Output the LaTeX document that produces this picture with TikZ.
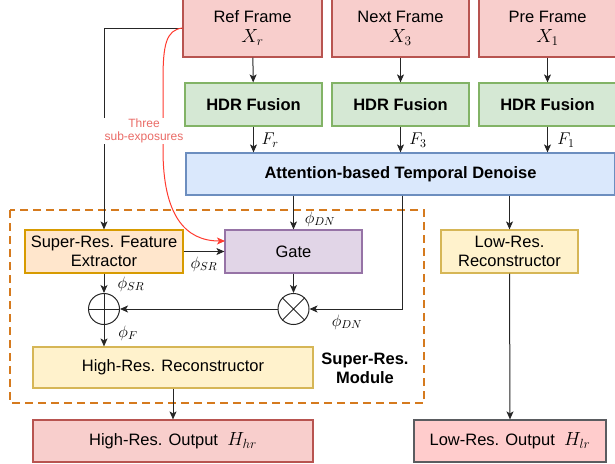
\RequirePackage{fix-cm}
\documentclass[tikz,border=0pt]{standalone}
\usepackage{fontspec}
\setmainfont{Liberation Sans}
\usetikzlibrary{arrows.meta,calc}
\definecolor{redfill}{HTML}{F8CECC}
\definecolor{redline}{HTML}{B85450}
\definecolor{greenfill}{HTML}{D5E8D4}
\definecolor{greenline}{HTML}{82B366}
\definecolor{bluefill}{HTML}{DAE8FC}
\definecolor{blueline}{HTML}{6C8EBF}
\definecolor{orangefill}{HTML}{FFE6CC}
\definecolor{orangeline}{HTML}{D79B00}
\definecolor{purplefill}{HTML}{E1D5E7}
\definecolor{purpleline}{HTML}{9673A6}
\definecolor{yellowfill}{HTML}{FFF2CC}
\definecolor{yellowline}{HTML}{D6B656}
\definecolor{pinkfill}{HTML}{FFCCCC}
\definecolor{grayline}{HTML}{5A5C60}
\definecolor{dashorange}{HTML}{D57A1E}
\definecolor{redcurve}{HTML}{FF3B2F}
\definecolor{redtext}{HTML}{EA6B66}
\begin{document}
\begin{tikzpicture}[x=1pt,y=-1pt,
  box/.style={draw, line width=1.2pt, rectangle, align=center, inner sep=0pt,
    font=\fontsize{16.5}{19}\selectfont},
  frame/.style={box, fill=redfill, draw=redline},
  hdr/.style={box, fill=greenfill, draw=greenline, font=\fontsize{16.5}{19}\selectfont\bfseries},
  arr/.style={-{Stealth[length=8pt,width=7pt,inset=2pt]}, line width=1pt, draw=black!85},
  ln/.style={line width=1pt, draw=black!85},
  mlab/.style={font=\fontsize{16.5}{18}\selectfont, inner sep=1pt},
  flab/.style={font=\fontsize{17}{19}\selectfont, inner sep=1pt},
]
\useasboundingbox (0,0) rectangle (615,463);

% top frames
\node[frame, minimum width=139pt, minimum height=58pt] (ref) at (252.5,28) {Ref Frame\\[1pt]{\fontsize{19}{21}\selectfont$X_r$}};
\node[frame, minimum width=137pt, minimum height=58pt] (next) at (400.5,28) {Next Frame\\[1pt]{\fontsize{19}{21}\selectfont$X_3$}};
\node[frame, minimum width=137pt, minimum height=58pt] (pre) at (547.5,28) {Pre Frame\\[1pt]{\fontsize{19}{21}\selectfont$X_1$}};

% HDR fusion
\node[hdr, minimum width=137pt, minimum height=43pt] (h1) at (253.5,104.5) {HDR Fusion};
\node[hdr, minimum width=137pt, minimum height=43pt] (h2) at (400.5,104.5) {HDR Fusion};
\node[hdr, minimum width=137pt, minimum height=43pt] (h3) at (547.5,104.5) {HDR Fusion};

% attention
\node[box, fill=bluefill, draw=blueline, minimum width=429pt, minimum height=42pt,
  font=\fontsize{16.5}{19}\selectfont\bfseries] (att) at (400.5,174) {Attention-based Temporal Denoise};

% dashed module
\draw[dashorange, line width=2pt, dash pattern=on 8pt off 5pt] (10,210) rectangle (424,403);
\node[font=\fontsize{16.5}{19}\selectfont\bfseries, align=center] (srm) at (365,368) {Super-Res.\\Module};

% inner boxes
\node[box, fill=orangefill, draw=orangeline, minimum width=158pt, minimum height=43pt] (sr) at (104,251.5) {Super-Res. Feature\\Extractor};
\node[box, fill=purplefill, draw=purpleline, minimum width=137pt, minimum height=43pt] (gate) at (293.5,251.5) {Gate};
\node[box, fill=yellowfill, draw=yellowline, minimum width=137pt, minimum height=43pt] (lrec) at (509.5,251.5) {Low-Res.\\Reconstructor};
\node[box, fill=yellowfill, draw=yellowline, minimum width=280pt, minimum height=41pt] (hrec) at (173,367.5) {High-Res. Reconstructor};

% outputs
\node[box, fill=redfill, draw=redline, minimum width=280pt, minimum height=42pt] (hout) at (173,441) {High-Res. Output\ \ {\fontsize{19}{21}\selectfont$H_{hr}$}};
\node[box, fill=pinkfill, draw=grayline, minimum width=192pt, minimum height=42pt] (lout) at (510,441) {Low-Res. Output\ \ {\fontsize{19}{21}\selectfont$H_{lr}$}};

% operators
\node[circle, draw=black!85, line width=1pt, minimum size=31pt, inner sep=0pt] (plus) at (104,309) {};
\draw[ln] (plus.north) -- (plus.south) (plus.west) -- (plus.east);
\node[circle, draw=black!85, line width=1pt, minimum size=31pt, inner sep=0pt] (times) at (293.5,309) {};
\draw[ln] (times.north west) -- (times.south east) (times.north east) -- (times.south west);

% connectors
\draw[arr] (ref) -- (h1);
\draw[arr] (next) -- (h2);
\draw[arr] (pre) -- (h3);
\draw[arr] (h1.south) -- (h1.south |- att.north);
\draw[arr] (h2.south) -- (h2.south |- att.north);
\draw[arr] (h3.south) -- (h3.south |- att.north);
\node[flab] (frl) at (270,140) {$F_r$};
\node[flab] (f3l) at (418,140) {$F_3$};
\node[flab] (f1l) at (566,140) {$F_1$};

\draw[arr] (att.south -| gate.north) -- (gate.north);
\node[mlab] (dnt) at (320,219) {$\phi_{DN}$};
\draw[arr] (att.south -| lrec.north) -- (lrec.north);
\draw[arr] (lrec.south) -- (lout.north);
\coordinate (dnx) at (402,0);
\draw[arr] (att.south -| dnx) |- (times.east);
\node[mlab] (dnl) at (347,322) {$\phi_{DN}$};

\draw[arr] (ref.west) -| (sr.north);
\draw[arr] (sr.east) -- (gate.west);
\node[mlab] (srl1) at (204,264) {$\phi_{SR}$};
\draw[arr] (sr.south) -- (plus.north);
\node[mlab] (srl2) at (131,284) {$\phi_{SR}$};
\draw[arr] (gate.south) -- (times.north);
\draw[arr] (times.west) -- (plus.east);
\draw[arr] (plus.south) -- (plus.south |- hrec.north);
\node[mlab] (fl) at (128,333) {$\phi_F$};
\draw[arr] (hrec.south) -- (hout.north);

% red curve
\coordinate (gin) at (225,241);
\draw[redcurve, line width=1pt, -{Stealth[length=8pt,width=7pt,inset=2pt]}]
  (ref.west) .. controls (166,30) and (163,45) .. (163,80) -- (163,150)
  .. controls (163,215) and (185,241) .. (gin);
\node[text=redtext, fill=white, align=center, inner sep=1pt,
  font=\fontsize{12}{13.5}\selectfont] (tse) at (144,131) {Three\\sub-exposures};
\end{tikzpicture}
\end{document}
